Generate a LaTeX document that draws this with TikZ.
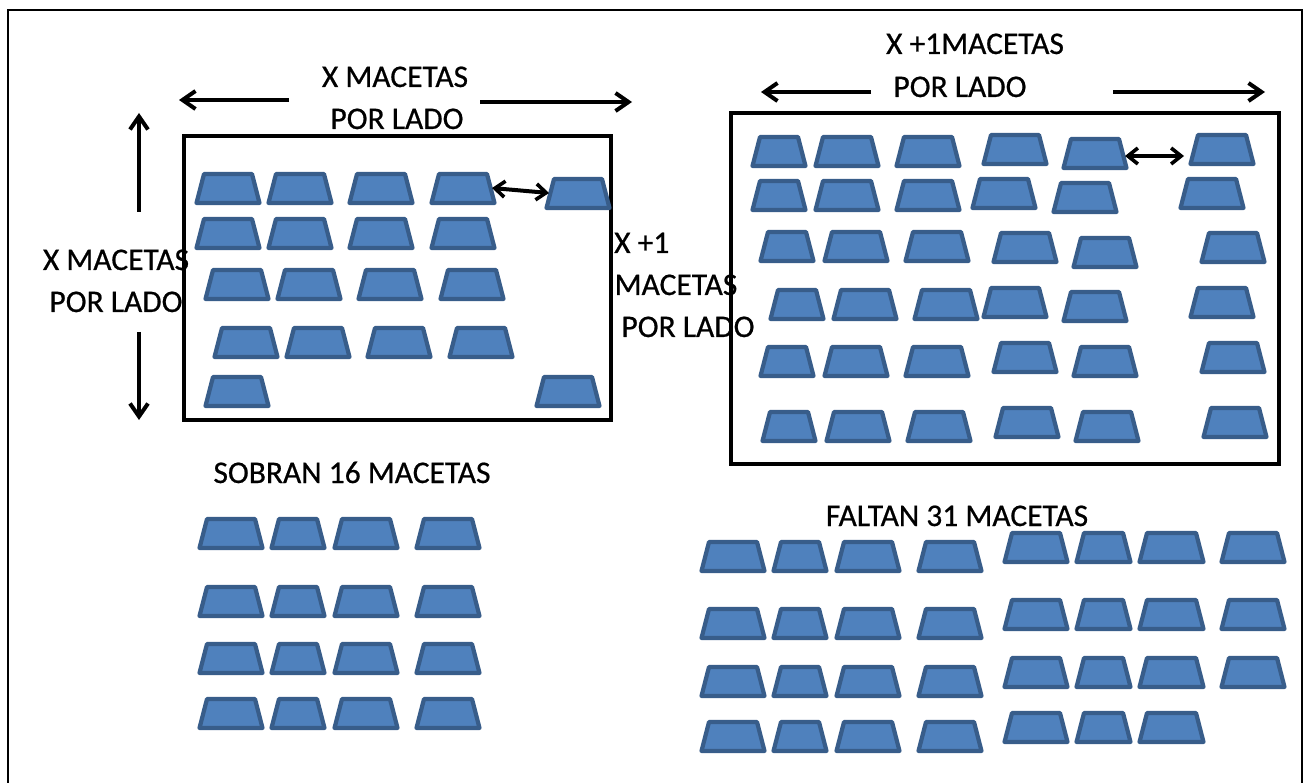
\documentclass[tikz,border=0pt]{standalone}
\usepackage{fontspec}
\setmainfont{Carlito}
\newfontfamily\lblfont[FakeBold=0.6]{Carlito}
\usetikzlibrary{arrows.meta}
\tikzset{
  potstyle/.style={draw=potline,fill=potfill,line width=4.2pt,line join=round},
  frameline/.style={draw=black,line width=3.8pt},
  label/.style={inner sep=0pt,anchor=base,font=\lblfont\fontsize{31.5}{31.5}\selectfont,text=black},
  arrowline/.style={draw=black,line width=4pt,-{Straight Barb[length=13pt,width=18pt,line width=4pt]}},
  dblarrow/.style={draw=black,line width=4pt,{Straight Barb[length=10pt,width=16pt,line width=3.6pt]}-{Straight Barb[length=10pt,width=16pt,line width=3.6pt]}}
}
\definecolor{potfill}{HTML}{4F81BD}
\definecolor{potline}{HTML}{385D8A}
% left outer x, top outer y, outer width
\newcommand{\pot}[3]{%
  \draw[potstyle] ({#1+1.5},{#2+31}) -- ({#1+9},{#2+2}) -- ({#1+#3-9},{#2+2}) -- ({#1+#3-1.5},{#2+31}) -- cycle;}
\begin{document}
\begin{tikzpicture}[x=1pt,y=-1pt]
\useasboundingbox (0,0) rectangle (1306,783);
\fill[white] (0,0) rectangle (1306,783);
\draw[draw=black,line width=2.8pt] (8,783) -- (8,10) -- (1302,10) -- (1302,783);
\draw[frameline] (184,136) rectangle (611,420);
\draw[frameline] (731,113) rectangle (1279,464);
% left box
\foreach \y/\d in {172/0,217/0,268/9,326/18}
  \foreach \x in {195,267,348,430} \pot{\x+\d}{\y}{66};
\pot{545}{177}{66}
\pot{204}{375}{66}
\pot{535}{375}{66}
% sobran
\foreach \y in {517,585,642,697} {
  \pot{198}{\y}{66}\pot{270}{\y}{56}\pot{333}{\y}{66}\pot{415}{\y}{66}}
% right box
\foreach \y/\a/\b/\c/\d/\e/\f/\ya/\yb/\yc in {
  135/751/814/895/982/1062/1189/133/137/133,
  179/751/814/895/971/1052/1179/177/181/177,
  230/759/823/904/992/1072/1200/231/236/231,
  288/769/832/913/982/1062/1189/286/290/286,
  345/759/823/904/992/1072/1200/341/345/341,
  410/761/825/906/994/1074/1202/406/410/406} {
  \pot{\a}{\y}{56}\pot{\b}{\y}{66}\pot{\c}{\y}{66}\pot{\d}{\ya}{66}\pot{\e}{\yb}{66}\pot{\f}{\yc}{66}}
% faltan
\foreach \y in {540,607,665,720} {
  \pot{700}{\y}{66}\pot{772}{\y}{56}\pot{835}{\y}{66}\pot{917}{\y}{66}}
\foreach \y in {531,598,656,711} {
  \pot{1003}{\y}{66}\pot{1075}{\y}{57}\pot{1138}{\y}{67}}
\foreach \y in {531,598,656} \pot{1220}{\y}{66};
% labels
\node[label] (t1) at (395,87) {X MACETAS};
\node[label] (t2) at (397,129) {POR LADO};
\node[label] (l1) at (116,270) {X MACETAS};
\node[label] (l2) at (116,312) {POR LADO};
\node[label,anchor=base west] (r1) at (614,253) {X +1};
\node[label] (r2) at (676,295) {MACETAS};
\node[label] (r3) at (688,337) {POR LADO};
\node[label] (u1) at (975,54) {X +1MACETAS};
\node[label] (u2) at (960,97) {POR LADO};
\node[label] (s) at (352,483) {SOBRAN 16 MACETAS};
\node[label] (f) at (957,526) {FALTAN 31 MACETAS};
% arrows
\coordinate (a1s) at (289,100); \coordinate (a1e) at (179,100);
\coordinate (a2s) at (480,102); \coordinate (a2e) at (632,102);
\coordinate (a3s) at (139,212); \coordinate (a3e) at (139,113);
\coordinate (a4s) at (139,332); \coordinate (a4e) at (139,420);
\coordinate (a5s) at (871,92); \coordinate (a5e) at (761,92);
\coordinate (a6s) at (1113,92); \coordinate (a6e) at (1265,92);
\coordinate (d1s) at (492,188); \coordinate (d1e) at (549,193);
\coordinate (d2s) at (1125,156); \coordinate (d2e) at (1184,156);
\foreach \n in {1,...,6} \draw[arrowline] (a\n s) -- (a\n e);
\draw[dblarrow] (d1s) -- (d1e);
\draw[dblarrow] (d2s) -- (d2e);
\end{tikzpicture}
\end{document}
